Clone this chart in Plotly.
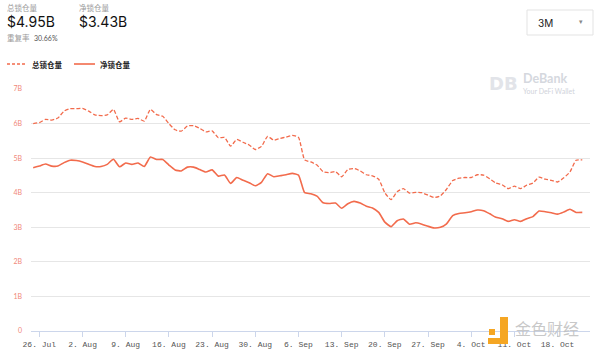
import plotly.graph_objects as go
import pandas as pd

# ---- data ----
start_date = "2021-07-25"
total_locked = [6.00, 6.03, 6.12, 6.10, 6.16, 6.36, 6.43, 6.43, 6.44, 6.36,
                6.25, 6.23, 6.25, 6.41, 6.05, 6.16, 6.12, 6.15, 6.07, 6.41,
                6.26, 6.21, 6.00, 5.82, 5.78, 5.93, 5.94, 5.86, 5.76, 5.79,
                5.59, 5.60, 5.35, 5.54, 5.46, 5.38, 5.25, 5.34, 5.63, 5.52,
                5.57, 5.61, 5.66, 5.60, 4.95, 4.89, 4.80, 4.61, 4.58, 4.61,
                4.46, 4.67, 4.70, 4.63, 4.52, 4.49, 4.39, 4.00, 3.80, 4.03,
                4.12, 3.99, 4.01, 4.00, 3.93, 3.86, 3.91, 4.10, 4.35, 4.42,
                4.44, 4.44, 4.52, 4.51, 4.40, 4.28, 4.23, 4.12, 4.19, 4.12,
                4.22, 4.28, 4.45, 4.39, 4.36, 4.31, 4.43, 4.60, 4.94, 4.95]
net_locked = [4.72, 4.77, 4.83, 4.77, 4.77, 4.87, 4.94, 4.93, 4.89, 4.82,
              4.76, 4.76, 4.82, 4.97, 4.75, 4.86, 4.82, 4.86, 4.76, 5.03,
              4.96, 4.96, 4.80, 4.66, 4.63, 4.74, 4.74, 4.67, 4.60, 4.66,
              4.48, 4.51, 4.27, 4.44, 4.36, 4.29, 4.20, 4.30, 4.55, 4.46,
              4.49, 4.52, 4.56, 4.51, 4.00, 3.97, 3.90, 3.71, 3.69, 3.70,
              3.55, 3.68, 3.75, 3.70, 3.61, 3.56, 3.43, 3.15, 3.02, 3.19,
              3.24, 3.09, 3.13, 3.09, 3.03, 2.98, 3.00, 3.10, 3.34, 3.40,
              3.42, 3.45, 3.50, 3.48, 3.39, 3.29, 3.25, 3.17, 3.22, 3.17,
              3.25, 3.31, 3.47, 3.45, 3.42, 3.38, 3.44, 3.52, 3.43, 3.43]
y_tick_vals = [0, 1, 2, 3, 4, 5, 6, 7]
y_tick_text = ["0", "1B", "2B", "3B", "4B", "5B", "6B", "7B"]
series_names = ["总锁仓量", "净锁仓量"]

dates = pd.date_range(start_date, periods=len(total_locked), freq="D")

W, H = 600, 353
L, R, T, B = 31, 10, 89, 22
PW, PH = W - L - R, H - T - B


def px(x):
    return (x - L) / PW


def py(y):
    return (H - B - y) / PH


LINE = "#F26B4C"
CJK = "Noto Sans CJK SC"

fig = go.Figure()
fig.add_trace(go.Scatter(x=dates, y=total_locked, mode="lines", name=series_names[0],
                         line=dict(color=LINE, width=1.3, dash="4px,2px", shape="spline", smoothing=0.5)))
fig.add_trace(go.Scatter(x=dates, y=net_locked, mode="lines", name=series_names[1],
                         line=dict(color=LINE, width=1.6, shape="spline", smoothing=0.5)))

fig.update_layout(
    width=W, height=H, margin=dict(l=L, r=R, t=T, b=B, autoexpand=False),
    paper_bgcolor="white", plot_bgcolor="white", showlegend=False,
    font=dict(family="Lato", color="#333"),
    xaxis=dict(type="date", automargin=False,
               range=["2021-07-24 15:30", "2021-10-23 06:00"],
               tick0="2021-07-26", dtick=7 * 86400000, tickformat="%-d. %b",
               showgrid=False, zeroline=False, showline=True, linecolor="#ccd6eb",
               linewidth=1, ticks="outside", ticklen=5, tickcolor="#ccd6eb",
               tickfont=dict(family="Liberation Mono", size=8, color="#555")),
    yaxis=dict(range=[0, 7], tickvals=y_tick_vals, ticktext=y_tick_text, automargin=False,
               showgrid=True, gridcolor="#e6e6e6", gridwidth=1, zeroline=False,
               showline=False, ticks="", ticklabelstandoff=8,
               tickfont=dict(family="Lato", size=7, color="#F0877A")),
)

ann = []
shapes = []


def text(x, y, s, size, color, bold=False, family=CJK, anchor="left"):
    ann.append(dict(x=px(x), y=py(y), xref="paper", yref="paper", text=("<b>%s</b>" % s) if bold else s,
                    showarrow=False, xanchor=anchor, yanchor="middle",
                    font=dict(family=family, size=size, color=color)))


# header
text(5, 7, "总锁仓量", 7.5, "#9a9a9a")
text(5, 22, "$4.95B", 14, "#111", family="Inter")
text(77, 7, "净锁仓量", 7.5, "#9a9a9a")
text(77, 22, "$3.43B", 14, "#111", family="Inter")
text(5, 38, "重复率", 7.5, "#9a9a9a")
text(32, 38, "30.66%", 7, "#555", family="Lato")

# legend
shapes.append(dict(type="line", xref="paper", yref="paper", x0=px(7), x1=px(25), y0=py(64), y1=py(64),
                   line=dict(color=LINE, width=1.3, dash="3px,2px")))
text(30, 64, "总锁仓量", 7.5, "#222", bold=True)
shapes.append(dict(type="line", xref="paper", yref="paper", x0=px(74), x1=px(95), y0=py(64), y1=py(64),
                   line=dict(color=LINE, width=1.6)))
text(98, 64, "净锁仓量", 7.5, "#222", bold=True)

# dropdown
shapes.append(dict(type="rect", xref="paper", yref="paper", x0=px(527), x1=px(593), y0=py(35), y1=py(10),
                   line=dict(color="#e3e3e3", width=1), fillcolor="white"))
text(536, 22.5, "3M", 10, "#222", family="Inter")
text(581, 22, "▾", 7, "#888", family="DejaVu Sans", anchor="center")

# DeBank watermark
text(503, 83, "<b>DB</b>", 18, "#e2e4e9", family="DejaVu Sans", anchor="center")
text(521, 78, "<b>DeBank</b>", 12.5, "#d5d8de", family="Lato")
text(521, 91, "Your DeFi Wallet", 7, "#d0d3da", family="Lato")

# Jinse watermark (bottom right)
shapes.append(dict(type="rect", xref="paper", yref="paper", x0=px(489), x1=px(495), y0=py(335), y1=py(329),
                   line=dict(width=0), fillcolor="#F5A623"))
shapes.append(dict(type="path", xref="paper", yref="paper",
                   path="M %f,%f L %f,%f L %f,%f L %f,%f L %f,%f L %f,%f Z" % (
                       px(500), py(317), px(508), py(317), px(508), py(344), px(488), py(344),
                       px(488), py(338), px(500), py(338)),
                   line=dict(width=0), fillcolor="#F5A623"))
text(547, 328, "金色财经", 16, "rgba(190,190,190,0.85)", anchor="center")

fig.update_layout(annotations=ann, shapes=shapes)
fig.write_html("out.html")
